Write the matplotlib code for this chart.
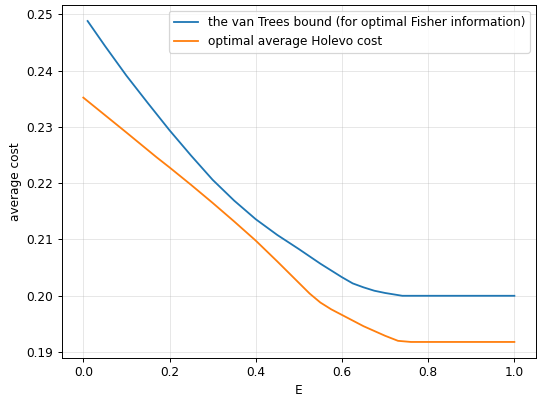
import matplotlib
matplotlib.use("Agg")
from matplotlib import pyplot as plt
import numpy as np

# van Trees bound (optimal Fisher information)
E_vt = [0.01, 0.05, 0.10, 0.15, 0.20, 0.25, 0.30, 0.35, 0.40, 0.45, 0.50,
        0.55, 0.60, 0.625, 0.65, 0.675, 0.70, 0.74, 0.80, 0.90, 1.00]
cost_vt = [0.2488, 0.2444, 0.2391, 0.2342, 0.2294, 0.2249, 0.2206, 0.2169,
           0.2136, 0.2108, 0.2083, 0.2057, 0.2033, 0.2022, 0.2015, 0.2009,
           0.2005, 0.2000, 0.2000, 0.2000, 0.2000]

# optimal average Holevo cost
E_hol = [0.00, 0.05, 0.10, 0.17, 0.20, 0.25, 0.30, 0.35, 0.40, 0.45, 0.50,
         0.525, 0.55, 0.575, 0.60, 0.65, 0.70, 0.73, 0.76, 0.85, 1.00]
cost_hol = [0.2352, 0.2321, 0.2290, 0.2246, 0.2228, 0.2197, 0.2165, 0.2132,
            0.2098, 0.2061, 0.2023, 0.2004, 0.1988, 0.1976, 0.1966, 0.1946,
            0.1929, 0.1920, 0.1918, 0.1918, 0.1918]

dpi = 87
fig = plt.figure(figsize=(537 / dpi, 398 / dpi), dpi=dpi)
ax = fig.add_axes([0.115, 0.1005, 0.883, 0.887])

ax.plot(E_vt, cost_vt, label="the van Trees bound (for optimal Fisher information)")
ax.plot(E_hol, cost_hol, label="optimal average Holevo cost")

ax.set_xlabel("E")
ax.set_ylabel("average cost")
ax.set_xticks(np.arange(0, 1.01, 0.2))
ax.grid(alpha=0.3)
ax.legend(loc="upper right")

fig.savefig("out.png", dpi=dpi)
